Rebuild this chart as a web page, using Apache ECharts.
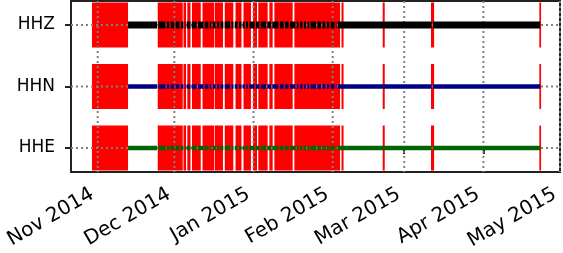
<!DOCTYPE html>
<html>
<head>
<meta charset="utf-8">
<script src="https://cdn.jsdelivr.net/npm/echarts@6/dist/echarts.min.js"></script>
<style>
html,body{margin:0;padding:0;background:#fff;}
#chart{width:563px;height:253px;}
</style>
</head>
<body>
<div id="chart"></div>
<script>
// ---- data ----
const channels = ['HHE', 'HHN', 'HHZ']; // bottom to top
const lineColors = ['#006400', '#000080', '#000000'];
const tickDates = ['2014-11-01', '2014-12-01', '2015-01-01', '2015-02-01', '2015-03-01', '2015-04-01', '2015-05-01'];
const tickLabels = ['Nov 2014', 'Dec 2014', 'Jan 2015', 'Feb 2015', 'Mar 2015', 'Apr 2015', 'May 2015'];
const axisStart = '2014-10-21T13:00';
const axisEnd = '2015-05-01T00:00';
const dataStart = '2014-11-12T21:00';
const dataEnd = '2015-04-23T05:00';
const gapStarts = [
  '2014-10-29T18:00', '2014-11-24T12:00', '2014-12-04T14:00', '2014-12-06T02:00', '2014-12-07T22:00',
  '2014-12-12T01:00', '2014-12-16T19:00', '2014-12-20T18:00', '2014-12-24T23:00', '2014-12-28T02:00',
  '2014-12-31T19:00', '2015-01-02T21:00', '2015-01-07T05:00', '2015-01-09T04:00', '2015-01-17T00:00',
  '2015-02-04T11:00', '2015-02-20T14:00', '2015-03-11T12:00', '2015-04-22T22:00'
];
const gapEnds = [
  '2014-11-12T21:00', '2014-12-04T07:00', '2014-12-05T14:00', '2014-12-07T08:00', '2014-12-11T08:00',
  '2014-12-16T13:00', '2014-12-20T01:00', '2014-12-24T02:00', '2014-12-27T07:00', '2014-12-31T00:00',
  '2015-01-02T09:00', '2015-01-06T13:00', '2015-01-08T12:00', '2015-01-16T08:00', '2015-02-03T21:00',
  '2015-02-05T06:00', '2015-02-21T09:00', '2015-03-12T17:00', '2015-04-23T14:00'
];
const breakTimes = [
  '2014-11-24T12:00', '2014-11-27T18:00', '2014-11-29T07:00', '2014-12-01T06:00', '2014-12-03T06:00',
  '2014-12-04T19:00', '2014-12-05T14:00', '2014-12-07T13:00', '2014-12-10T00:00', '2014-12-12T15:00',
  '2014-12-14T14:00', '2014-12-15T18:00', '2014-12-17T08:00', '2014-12-18T21:00', '2014-12-20T11:00',
  '2014-12-23T02:00', '2014-12-24T09:00', '2014-12-26T01:00', '2014-12-27T12:00', '2014-12-28T19:00',
  '2014-12-30T03:00', '2015-01-01T17:00', '2015-01-03T13:00', '2015-01-06T04:00', '2015-01-08T03:00',
  '2015-01-11T02:00', '2015-01-13T01:00', '2015-01-15T00:00', '2015-01-17T15:00', '2015-01-18T22:00',
  '2015-01-20T12:00', '2015-01-21T20:00', '2015-01-23T03:00', '2015-01-25T18:00', '2015-01-27T17:00',
  '2015-01-29T09:00', '2015-01-30T23:00', '2015-02-01T22:00', '2015-02-02T19:00', '2015-03-12T00:00'
];
const breakHalfHours = 6;

// ---- build ----
function t(s) { return new Date(s.length === 10 ? s + 'T00:00' : s).getTime(); }
const HOUR = 3600 * 1000;
const tickVals = tickDates.map(t);
const yTicks = [0, 1, 2];

const gapData = [];
const segData = [];
channels.forEach((c, ci) => {
  gapStarts.forEach((g, i) => gapData.push([t(g), t(gapEnds[i]), ci]));
  let cur = t(dataStart);
  breakTimes.forEach(b => {
    const bt = t(b);
    segData.push([cur, bt - breakHalfHours * HOUR, ci]);
    cur = bt + breakHalfHours * HOUR;
  });
  segData.push([cur, t(dataEnd), ci]);
});

const lineWidths = [4.5, 4.5, 7];

const chart = echarts.init(document.getElementById('chart'), null, { renderer: 'canvas' });
const gridStyle = { stroke: '#808080', lineWidth: 2, lineDash: [2, 3] };

function csRect(params) {
  return { x: params.coordSys.x, y: params.coordSys.y, width: params.coordSys.width, height: params.coordSys.height };
}

chart.setOption({
  animation: false,
  backgroundColor: '#fff',
  grid: { left: 71, right: 3, top: 1, bottom: 81, outerBoundsMode: 'none', containLabel: false,
          show: true, borderColor: '#222', borderWidth: 2, backgroundColor: 'transparent' },
  xAxis: {
    type: 'value',
    min: t(axisStart),
    max: t(axisEnd),
    scale: true,
    axisLine: { show: false },
    splitLine: { show: false },
    axisTick: { show: true, customValues: tickVals, length: 6, lineStyle: { color: '#222', width: 2 } },
    axisLabel: {
      customValues: tickVals,
      rotate: 30,
      margin: 18,
      padding: [0, 6, 0, 0],
      fontFamily: 'DejaVu Sans',
      fontSize: 20,
      color: '#000',
      formatter: v => { const i = tickVals.indexOf(v); return i >= 0 ? tickLabels[i] : ''; }
    }
  },
  yAxis: {
    type: 'value',
    min: -0.39,
    max: 2.39,
    axisLine: { show: false },
    splitLine: { show: false },
    axisTick: { show: true, customValues: yTicks, length: 6, lineStyle: { color: '#222', width: 2 } },
    axisLabel: {
      customValues: yTicks,
      margin: 16,
      fontFamily: 'DejaVu Sans',
      fontSize: 17,
      color: '#000',
      formatter: v => channels[Math.round(v)] || ''
    }
  },
  series: [
    {
      type: 'custom',
      z: 1,
      silent: true,
      renderItem: (params, api) => {
        const s = api.coord([api.value(0), api.value(2)]);
        const e = api.coord([api.value(1), api.value(2)]);
        const h = api.size([0, 0.732])[1];
        const r = echarts.graphic.clipRectByRect(
          { x: s[0], y: s[1] - h / 2, width: e[0] - s[0], height: h }, csRect(params));
        return r && { type: 'rect', shape: r, style: { fill: '#ff0000' } };
      },
      encode: { x: [0, 1], y: 2 },
      data: gapData
    },
    {
      type: 'custom',
      z: 2,
      silent: true,
      renderItem: (params, api) => {
        const cs = params.coordSys;
        const x = api.coord([api.value(0), 0])[0];
        return { type: 'line', shape: { x1: x, y1: cs.y, x2: x, y2: cs.y + cs.height }, style: gridStyle };
      },
      encode: { x: 0 },
      data: tickVals.map(v => [v])
    },
    {
      type: 'custom',
      z: 2,
      silent: true,
      renderItem: (params, api) => {
        const cs = params.coordSys;
        const y = api.coord([t(axisStart), api.value(0)])[1];
        return { type: 'line', shape: { x1: cs.x, y1: y, x2: cs.x + cs.width, y2: y }, style: gridStyle };
      },
      encode: { y: 0 },
      data: yTicks.map(v => [v])
    },
    {
      type: 'custom',
      z: 5,
      silent: true,
      renderItem: (params, api) => {
        const ci = api.value(2);
        const s = api.coord([api.value(0), ci]);
        const e = api.coord([api.value(1), ci]);
        const h = lineWidths[ci];
        return { type: 'rect', shape: { x: s[0], y: s[1] - h / 2, width: e[0] - s[0], height: h }, style: { fill: lineColors[ci] } };
      },
      encode: { x: [0, 1], y: 2 },
      data: segData
    }
  ]
});
</script>
</body>
</html>
